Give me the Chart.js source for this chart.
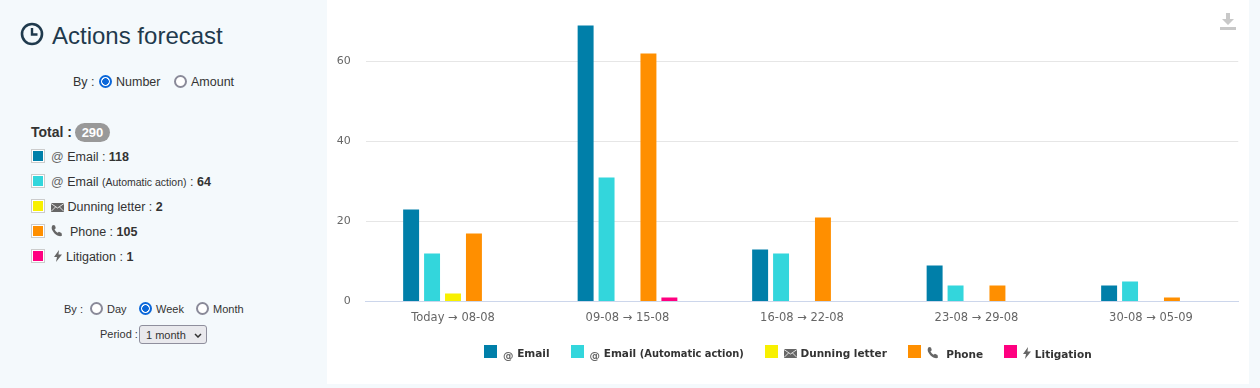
<!DOCTYPE html>
<html><head><meta charset="utf-8">
<script src="https://cdn.jsdelivr.net/npm/chart.js@4"></script>
<style>
html,body{margin:0;padding:0;width:1260px;height:388px;overflow:hidden;background:#f4f9fc;font-family:"Liberation Sans",Arial,sans-serif;color:#333;font-size:12.5px}
.a{position:absolute;white-space:nowrap;line-height:16px}
#panel{position:absolute;left:327px;top:0;width:922px;height:384px;background:#fff}
#wrap{position:absolute;left:327px;top:0;width:922px;height:383px}
input[type=radio]{position:absolute;margin:0;width:13px;height:13px;box-sizing:border-box;appearance:none;-webkit-appearance:none;border:2px solid #8a8a99;border-radius:50%;background:#fff}
input[type=radio]:checked{border-color:#0b67d9;background:radial-gradient(circle,#0b67d9 0,#0b67d9 3px,#fff 3.6px)}
.sw{position:absolute;left:32px;width:10px;height:10px;border:1px solid #fff;outline:1px solid #ccc}
.g{color:#666}
small{font-size:10.5px}
.i{display:inline-block;vertical-align:-1px;fill:#666}
select{position:absolute;left:139px;top:325px;width:68px;height:19px;font:11px "Liberation Sans";padding:0 0 0 6px;border:1px solid #8f8f9d;border-radius:3px;color:#333;appearance:none;-webkit-appearance:none;background:#e9e9ed url("data:image/svg+xml,%3Csvg xmlns='http://www.w3.org/2000/svg' width='8' height='5'%3E%3Cpath d='M1 1l3 3 3-3' fill='none' stroke='%23333' stroke-width='1.5'/%3E%3C/svg%3E") no-repeat 54px 7px}
#legend{position:absolute;left:484px;top:345px;display:flex;white-space:nowrap;font:bold 10.5px/13px "DejaVu Sans";color:#333}
#legend>div{display:flex;margin-right:21px}
#legend>div:last-child{margin-right:0}
#legend b{display:block;width:13px;height:13px;margin-right:6px}
#legend span{position:relative;top:2px}
#legend small{font-size:9.9px}
</style></head><body>
<div id="panel"></div>
<svg class="a" style="left:20px;top:22px" width="24" height="24" viewBox="0 0 24 24"><circle cx="12" cy="12" r="10" fill="none" stroke="#1f3a4d" stroke-width="2.6"/><path d="M12 6v6.5h5.5" fill="none" stroke="#1f3a4d" stroke-width="2.4"/></svg>
<div class="a" style="left:52px;top:20px;font-size:24px;line-height:32px;color:#1f3a4d">Actions forecast</div>
<div class="a" style="left:73px;top:74px">By :</div>
<input type="radio" name="m" checked style="left:99px;top:75px"><div class="a" style="left:116px;top:74px">Number</div>
<input type="radio" name="m" style="left:174px;top:75px"><div class="a" style="left:191px;top:74px">Amount</div>
<div class="a" style="left:31px;top:124px;font-weight:bold;font-size:14px">Total :</div>
<div class="a" style="left:75px;top:123px;width:35px;height:19px;line-height:19px;border-radius:10px;background:#999;color:#fff;font-weight:bold;font-size:13px;text-align:center" id="tot"></div>
<div id="rows"></div>
<div class="a" style="left:64px;top:301px;font-size:11px">By :</div>
<input type="radio" name="p" style="left:90px;top:302px"><div class="a" style="left:107px;top:301px;font-size:11px">Day</div>
<input type="radio" name="p" checked style="left:139px;top:302px"><div class="a" style="left:156px;top:301px;font-size:11px">Week</div>
<input type="radio" name="p" style="left:196px;top:302px"><div class="a" style="left:213px;top:301px;font-size:11px">Month</div>
<div class="a" style="left:100px;top:326px;font-size:11px">Period :</div>
<select><option>1 month</option></select>
<div id="wrap"><canvas id="c"></canvas></div>
<div id="legend"></div>
<svg class="a" style="left:1219px;top:13px" width="18" height="18" viewBox="0 0 18 18"><path d="M7 0h4v6h4l-6 6-6-6h4z M1 14h16v3H1z" fill="#c8c8c8"/></svg>
<script>
const categories=["Today → 08-08","09-08 → 15-08","16-08 → 22-08","23-08 → 29-08","30-08 → 05-09"];
const email=[23,69,13,9,4];
const emailAuto=[12,31,12,4,5];
const dunning=[2,0,0,0,0];
const phone=[17,62,21,4,1];
const litigation=[0,1,0,0,0];
const yTicks=[0,20,40,60];
const totals=[118,64,2,105,1];
const total=290;
const names=["@ Email","@ Email (Automatic action)","Dunning letter","Phone","Litigation"];
const colors=["#007fa9","#33d6dc","#f8f000","#ff8f00","#ff0080"];

const ic={
 env:'<svg class="i" width="13" height="9" viewBox="0 0 13 9"><path d="M0 0h13v9H0z"/><path d="M0 .5l6.500 4.500L13 .5M0 8.500l4.500-4.500M13 8.500L8.500 4" fill="none" stroke="#fff" stroke-width=".8"/></svg>',
 tel:'<svg class="i" width="12" height="12" viewBox="0 0 12 12"><path d="M2 0l2 .5.8 2.700-1.300 1c.6 1.400 1.600 2.600 3.200 3.500l1.200-1 2.600 1.200L11 10.500C9 12.500 3.500 10 1.200 5 .3 3 .5 1 2 0z"/></svg>',
 bolt:'<svg class="i" width="8" height="12" viewBox="0 0 8 12"><path d="M5 0L0 7h3l-1 5 6-7.500H4.500z"/></svg>'
};
const at='<span class="g">@</span>';
const legendHtml=[at+'&nbsp;Email',at+'&nbsp;Email&nbsp;<small>(Automatic action)</small>',ic.env+'&nbsp;Dunning letter',ic.tel+'&nbsp;&nbsp;Phone',ic.bolt+'&nbsp;Litigation'];
const rowHtml=[at+' Email : ',at+' Email <small>(Automatic action)</small> : ',ic.env+' Dunning letter : ',ic.tel+'&nbsp; Phone : ','&nbsp;'+ic.bolt+' Litigation : '];
document.getElementById('tot').textContent=total;
const rowY=[156,181,206,231,256];
document.getElementById('rows').innerHTML=rowHtml.map((h,i)=>
 `<div class="sw" style="top:${rowY[i]-6}px;background:${colors[i]}"></div><div class="a" style="left:51px;top:${rowY[i]-7}px">${h}<b>${totals[i]}</b></div>`).join('');

const series=[email,emailAuto,dunning,phone,litigation];
const chart=new Chart(document.getElementById('c'),{
 type:'bar',
 data:{labels:categories,datasets:series.map((d,i)=>({label:names[i],data:d,backgroundColor:colors[i],categoryPercentage:0.6,barPercentage:16/21}))},
 options:{
  responsive:true,maintainAspectRatio:false,animation:false,
  layout:{padding:{left:0,right:10.75,top:1.5,bottom:51.5}},
  plugins:{tooltip:{enabled:false},legend:{display:false}},
  scales:{
   x:{grid:{display:false},border:{color:'#ccd6eb'},
      ticks:{color:'#666',font:{family:'"DejaVu Sans"',size:11.5},padding:2,maxRotation:0},
      afterFit(s){s.height=30;s.paddingLeft=0;s.paddingRight=0;}},
   y:{min:0,max:75,grid:{color:'#e6e6e6',drawTicks:false},border:{display:false},
      afterBuildTicks(s){s.ticks=yTicks.map(v=>({value:v}));},
      ticks:{color:'#666',font:{family:'"DejaVu Sans"',size:11},padding:15},
      afterFit(s){s.width=38.75;s.paddingTop=0;s.paddingBottom=0;}}
  }
 }
});
document.getElementById('legend').innerHTML=chart.data.datasets.map((d,i)=>
 `<div><b style="background:${d.backgroundColor}"></b><span>${legendHtml[i]}</span></div>`).join('');
</script>
</body></html>
